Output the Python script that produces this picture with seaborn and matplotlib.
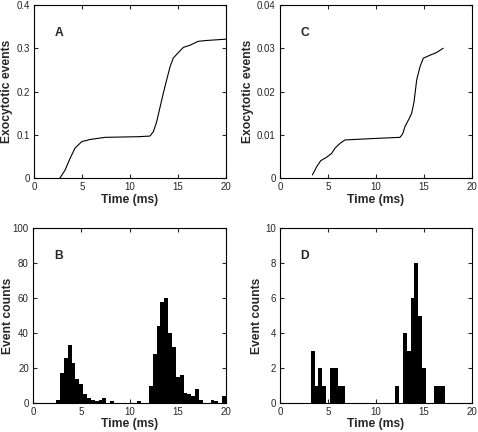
import numpy as np
import pandas as pd
import matplotlib
matplotlib.use('Agg')
import matplotlib.pyplot as plt
import seaborn as sns

# cumulative curves
a_time = [2.7, 3.23, 3.75, 4.27, 4.97, 5.83, 7.4, 10.86, 12.08, 12.43, 12.78, 13.1, 13.47,
          13.82, 14.17, 14.5, 15.03, 15.56, 16.25, 17.1, 18.0, 20.0]
a_events = [0.0, 0.018, 0.045, 0.069, 0.084, 0.089, 0.094, 0.0955, 0.097, 0.107, 0.130, 0.161,
            0.196, 0.227, 0.257, 0.277, 0.290, 0.302, 0.307, 0.316, 0.318, 0.321]

c_time = [3.37, 3.82, 4.24, 4.86, 5.38, 5.73, 6.25, 6.77, 10.4, 12.5, 12.78, 13.02, 13.47,
          13.72, 13.96, 14.24, 14.58, 14.93, 15.63, 16.3, 17.0]
c_events = [0.0007, 0.0026, 0.004, 0.0048, 0.0057, 0.0069, 0.008, 0.0088, 0.0092, 0.0094,
            0.0102, 0.0119, 0.0138, 0.015, 0.0176, 0.0227, 0.0257, 0.0277, 0.0284, 0.029, 0.030]

# histograms, 0.4 ms bins starting at 0
bin_width = 0.4
b_counts = [0, 0, 0, 0, 0, 0, 2, 17, 26, 33, 23, 14, 11, 5, 3, 2, 1, 2, 3, 0,
            1, 0, 0, 0, 0, 0, 0, 1, 0, 0, 10, 28, 44, 58, 60, 40, 32, 15, 16, 6,
            5, 4, 8, 2, 0, 0, 2, 1, 0, 4]
d_counts = [0, 0, 0, 0, 0, 0, 0, 0, 3, 1, 2, 1, 0, 2, 2, 1, 1, 0, 0, 0,
            0, 0, 0, 0, 0, 0, 0, 0, 0, 0, 1, 0, 4, 3, 6, 8, 5, 2, 0, 0,
            1, 1, 1, 0, 0, 0, 0, 0, 0, 0]

sns.set_style('ticks')
plt.rcParams['font.family'] = ['Liberation Sans', 'DejaVu Sans']

fig = plt.figure(figsize=(4.78, 4.32), dpi=100)
W, H = 478, 432


def make_ax(left, top, right, bottom):
    return fig.add_axes([left / W, (H - bottom) / H, (right - left) / W, (bottom - top) / H])


ax_a = make_ax(34, 5, 226, 178)
ax_c = make_ax(280, 5, 472, 178)
ax_b = make_ax(33, 228, 226, 403)
ax_d = make_ax(280, 228, 472, 403)

sns.lineplot(x=a_time, y=a_events, ax=ax_a, color='black', linewidth=0.8, sort=False)
sns.lineplot(x=c_time, y=c_events, ax=ax_c, color='black', linewidth=0.8, sort=False)

centers = np.arange(len(b_counts)) * bin_width + bin_width / 2
hist_df = pd.DataFrame({'t': centers, 'b': b_counts, 'd': d_counts})
for ax, col in [(ax_b, 'b'), (ax_d, 'd')]:
    sns.histplot(data=hist_df, x='t', weights=col, binwidth=bin_width, binrange=(0, 20), ax=ax,
                 color='black', alpha=1, edgecolor='none', linewidth=0)

settings = [
    (ax_a, 'A', (0, 0.4), [0, 0.1, 0.2, 0.3, 0.4], ['0', '0.1', '0.2', '0.3', '0.4'],
     'Exocytotic events', -0.109, -0.095),
    (ax_c, 'C', (0, 0.04), [0, 0.01, 0.02, 0.03, 0.04], ['0', '0.01', '0.02', '0.03', '0.04'],
     'Exocytotic events', -0.135, -0.095),
    (ax_b, 'B', (0, 100), [0, 20, 40, 60, 80, 100], ['0', '20', '40', '60', '80', '100'],
     'Event counts', -0.1, -0.085),
    (ax_d, 'D', (0, 10), [0, 2, 4, 6, 8, 10], ['0', '2', '4', '6', '8', '10'],
     'Event counts', -0.089, -0.085),
]
for ax, letter, ylim, yticks, ylabels, ylab, ylab_x, xlab_y in settings:
    ax.set_xlim(0, 20)
    ax.set_ylim(*ylim)
    ax.set_xticks([0, 5, 10, 15, 20])
    ax.set_xticklabels(['0', '5', '10', '15', '20'])
    ax.set_yticks(yticks)
    ax.set_yticklabels(ylabels)
    ax.tick_params(direction='in', top=True, right=True, length=3, width=0.8,
                   labelsize=7, pad=3)
    for s in ax.spines.values():
        s.set_visible(True)
        s.set_linewidth(0.8)
        s.set_color('black')
    ax.set_xlabel('Time (ms)', fontsize=8.7, fontweight='bold')
    ax.set_ylabel(ylab, fontsize=8.7, fontweight='bold')
    ax.yaxis.set_label_coords(ylab_x, 0.5)
    ax.xaxis.set_label_coords(0.5, xlab_y)
    ax.text(0.13, 0.84, letter, transform=ax.transAxes, fontsize=8.7, fontweight='bold',
            va='center', ha='center')

fig.savefig('out.png', dpi=100)
